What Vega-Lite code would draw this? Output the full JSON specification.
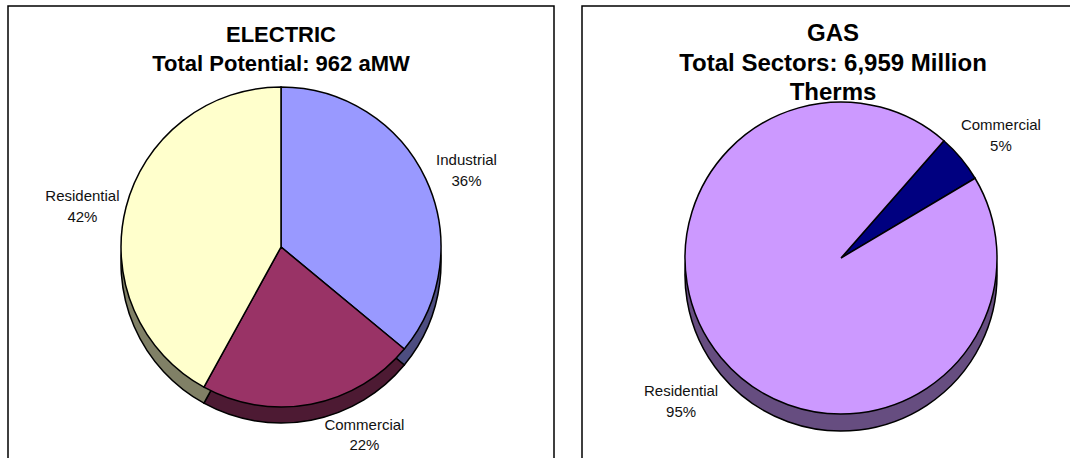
{
  "$schema": "https://vega.github.io/schema/vega-lite/v6.json",
  "padding": {"left": 7, "top": 5, "right": 0, "bottom": 0},
  "background": "white",
  "spacing": 26,
  "resolve": {"scale": {"color": "independent", "theta": "independent"}},
  "config": {
    "view": {"stroke": null},
    "title": {
      "font": "Liberation Sans",
      "fontWeight": "bold",
      "color": "#000",
      "anchor": "middle",
      "frame": "group",
      "lineHeight": 29.5
    },
    "text": {"font": "Liberation Sans", "fontSize": 15, "color": "#111"}
  },
  "hconcat": [
    {
      "width": 546,
      "height": 482,
      "title": {"text": ["ELECTRIC", "Total Potential: 962 aMW"], "fontSize": 22, "offset": -71},
      "data": {
        "values": [
          {"sector": "Industrial", "share": 36, "rank": 1},
          {"sector": "Commercial", "share": 22, "rank": 2},
          {"sector": "Residential", "share": 42, "rank": 3}
        ]
      },
      "transform": [
        {"calculate": "datum.sector + '\\n' + datum.share + '%'", "as": "label"}
      ],
      "layer": [
        {
          "data": {"values": [{"frame": "panel"}]},
          "mark": {"type": "rect", "fill": null, "stroke": "#000", "strokeWidth": 1.5},
          "encoding": {
            "x": {"value": 0},
            "x2": {"value": "width"},
            "y": {"value": 0},
            "y2": {"value": "height"}
          }
        },
        {
          "encoding": {
            "theta": {"field": "share", "type": "quantitative", "stack": true},
            "order": {"field": "rank", "type": "quantitative"}
          },
          "layer": [
            {
              "mark": {"type": "arc", "radius": 160, "yOffset": 16, "fill": "#000"}
            },
            {
              "mark": {"type": "arc", "radius": 160, "yOffset": 16, "fillOpacity": 0.5, "stroke": "#000", "strokeWidth": 1.5},
              "encoding": {
                "color": {
                  "field": "sector",
                  "type": "nominal",
                  "scale": {"domain": ["Industrial", "Commercial", "Residential"], "range": ["#9999ff", "#993366", "#ffffcc"]},
                  "legend": null
                }
              }
            },
            {
              "mark": {"type": "arc", "radius": 160, "stroke": "#000", "strokeWidth": 1.5},
              "encoding": {
                "color": {
                  "field": "sector",
                  "type": "nominal",
                  "scale": {"domain": ["Industrial", "Commercial", "Residential"], "range": ["#9999ff", "#993366", "#ffffcc"]},
                  "legend": null
                }
              }
            },
            {
              "mark": {"type": "text", "radius": 205, "lineBreak": "\n", "align": "center", "baseline": "middle", "lineHeight": 21},
              "encoding": {
                "text": {"field": "label"},
                "opacity": {"condition": {"test": "datum.sector === 'Commercial'", "value": 0}, "value": 1}
              }
            },
            {
              "mark": {"type": "text", "radius": 205, "lineBreak": "\n", "align": "center", "baseline": "middle", "lineHeight": 20, "dx": 45, "dy": -23},
              "encoding": {
                "text": {"field": "label"},
                "opacity": {"condition": {"test": "datum.sector === 'Commercial'", "value": 1}, "value": 0}
              }
            }
          ]
        }
      ]
    },
    {
      "width": 518,
      "height": 504,
      "title": {"text": ["GAS", "Total Sectors: 6,959 Million", "Therms"], "fontSize": 24, "offset": -100, "dx": -8},
      "data": {
        "values": [
          {"sector": "Commercial", "share": 5, "rank": 1},
          {"sector": "Residential", "share": 95, "rank": 2}
        ]
      },
      "transform": [
        {"calculate": "datum.sector + '\\n' + datum.share + '%'", "as": "label"}
      ],
      "layer": [
        {
          "data": {"values": [{"frame": "panel"}]},
          "mark": {"type": "rect", "fill": null, "stroke": "#000", "strokeWidth": 1.5},
          "encoding": {
            "x": {"value": 0},
            "x2": {"value": "width"},
            "y": {"value": 0},
            "y2": {"value": "height"}
          }
        },
        {
          "encoding": {
            "theta": {"field": "share", "type": "quantitative", "stack": true, "scale": {"range": [0.72, 7.0032]}},
            "order": {"field": "rank", "type": "quantitative"}
          },
          "layer": [
            {
              "mark": {"type": "arc", "radius": 156, "yOffset": 17, "fill": "#000"}
            },
            {
              "mark": {"type": "arc", "radius": 156, "yOffset": 17, "fillOpacity": 0.5, "stroke": "#000", "strokeWidth": 1.5},
              "encoding": {
                "color": {
                  "field": "sector",
                  "type": "nominal",
                  "scale": {"domain": ["Commercial", "Residential"], "range": ["#000080", "#cc99ff"]},
                  "legend": null
                }
              }
            },
            {
              "mark": {"type": "arc", "radius": 156, "stroke": "#000", "strokeWidth": 1.5},
              "encoding": {
                "color": {
                  "field": "sector",
                  "type": "nominal",
                  "scale": {"domain": ["Commercial", "Residential"], "range": ["#000080", "#cc99ff"]},
                  "legend": null
                }
              }
            },
            {
              "mark": {"type": "text", "radius": 208, "lineBreak": "\n", "align": "center", "baseline": "middle", "lineHeight": 21},
              "encoding": {"text": {"field": "label"}}
            }
          ]
        }
      ]
    }
  ]
}
